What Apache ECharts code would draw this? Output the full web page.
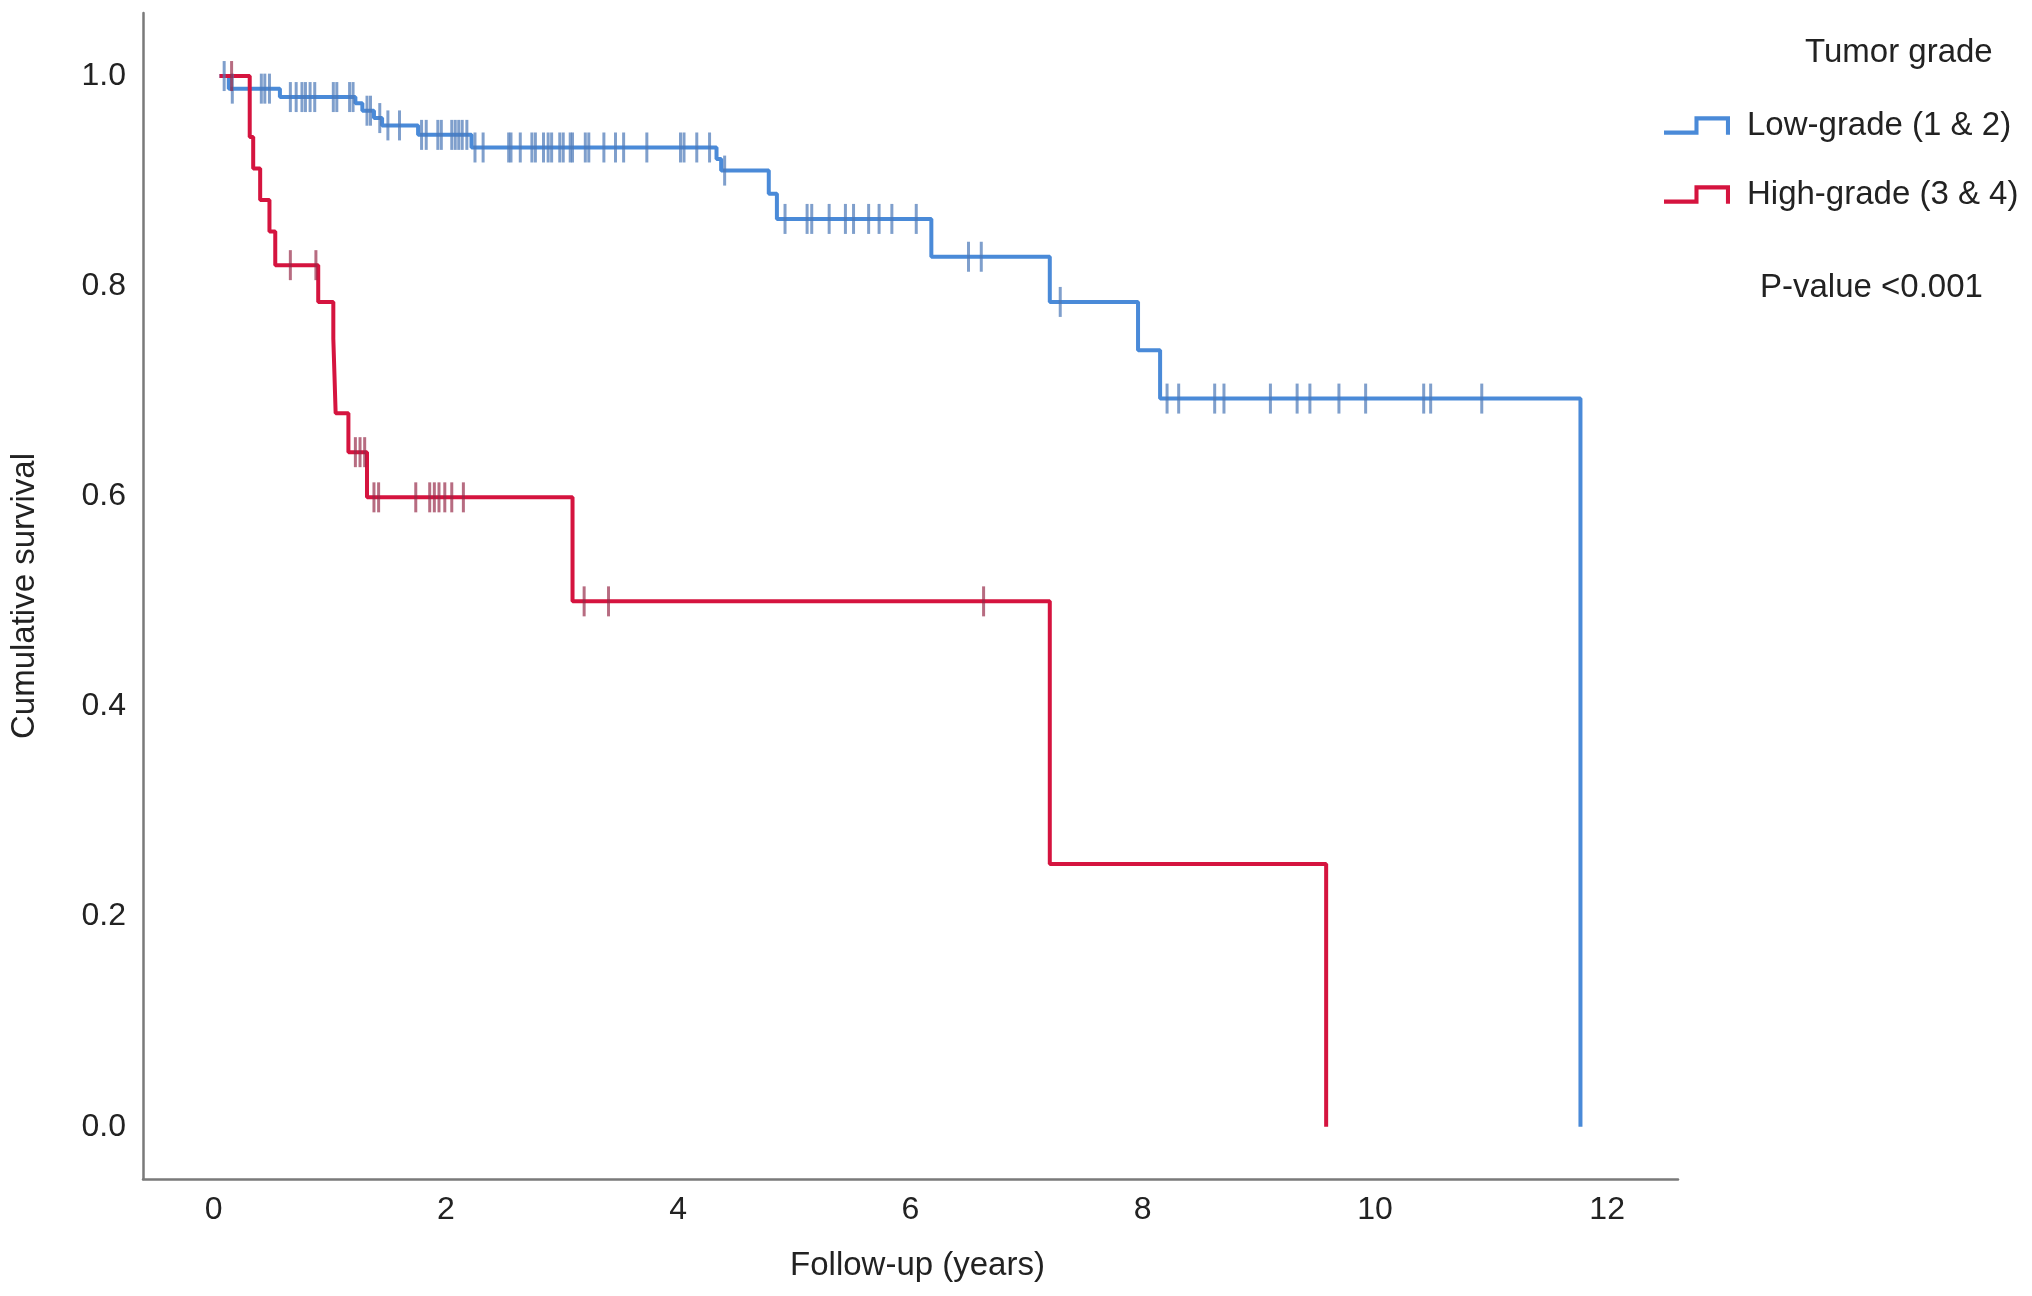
<!DOCTYPE html>
<html>
<head>
<meta charset="utf-8">
<script src="https://cdn.jsdelivr.net/npm/echarts@6/dist/echarts.min.js"></script>
<style>
html,body{margin:0;padding:0;background:#fff;}
#chart{width:2032px;height:1296px;}
</style>
</head>
<body>
<div id="chart"></div>
<script>
// ---- data ----
const lowTimes = [0.05, 0.13, 0.57, 1.22, 1.28, 1.38, 1.45, 1.76, 2.22, 4.33, 4.37, 4.78, 4.85, 6.18, 7.20, 7.96, 8.15, 11.77];
const lowSurv  = [1.0, 0.988, 0.980, 0.974, 0.967, 0.960, 0.953, 0.944, 0.932, 0.921, 0.910, 0.888, 0.864, 0.828, 0.785, 0.739, 0.693, 0.0];
const lowCensor = [0.09, 0.16, 0.41, 0.44, 0.48, 0.66, 0.71, 0.76, 0.79, 0.83, 0.87, 1.03, 1.06, 1.17, 1.20,
  1.32, 1.35, 1.43, 1.50, 1.60, 1.79, 1.83, 1.93, 1.96, 2.05, 2.08, 2.11, 2.14, 2.18,
  2.25, 2.32, 2.54, 2.56, 2.64, 2.74, 2.77, 2.84, 2.88, 2.91, 2.98, 3.01, 3.07, 3.09, 3.20, 3.23, 3.36, 3.46, 3.53, 3.73, 4.02, 4.05, 4.16, 4.27,
  4.40, 4.92, 5.11, 5.15, 5.30, 5.44, 5.51, 5.64, 5.73, 5.84, 6.05, 6.50, 6.61, 7.29,
  8.21, 8.31, 8.62, 8.70, 9.10, 9.33, 9.44, 9.69, 9.92, 10.42, 10.48, 10.92];

const highTimes = [0.05, 0.31, 0.34, 0.40, 0.48, 0.53, 0.90, 1.03, 1.04, 1.05, 1.16, 1.32, 3.09, 7.20, 9.58];
const highSurv  = [1.0, 0.942, 0.912, 0.882, 0.852, 0.820, 0.785, 0.750, 0.715, 0.679, 0.642, 0.599, 0.500, 0.250, 0.0];
const highCensor = [0.154, 0.66, 0.88, 1.22, 1.26, 1.30, 1.38, 1.42, 1.74, 1.86, 1.90, 1.94, 1.99, 2.05, 2.15, 3.19, 3.40, 6.63];

const seriesNames = ['Low-grade (1 & 2)', 'High-grade (3 & 4)'];
const xTicks = [0, 2, 4, 6, 8, 10, 12];
const yTicks = [0, 0.2, 0.4, 0.6, 0.8, 1.0];
const legendTitle = 'Tumor grade';
const pValueText = 'P-value <0.001';
const xName = 'Follow-up (years)';
const yName = 'Cumulative survival';

// ---- helpers ----
function levelAt(times, surv, t) {
  let s = surv[0];
  for (let i = 0; i < times.length; i++) if (times[i] <= t) s = surv[i];
  return s;
}
const zip = (a, b) => a.map((v, i) => [v, b[i]]);

const blue = '#4a8ad8';
const red = '#d5143f';
const FONT = '"Liberation Sans", Arial, Helvetica, sans-serif';
const stepIcon = 'path://M0,14 L30,14 L30,0 L65,0 L65,18 L61,18 L61,4 L34,4 L34,18 L0,18 Z';

const chart = echarts.init(document.getElementById('chart'), null, {renderer: 'canvas'});
chart.setOption({
  backgroundColor: '#ffffff',
  animation: false,
  textStyle: {fontFamily: FONT},
  grid: {left: 143, right: 354, top: 13, bottom: 117, containLabel: false},
  xAxis: {
    type: 'value', min: -0.609, max: 12.61,
    name: xName, nameLocation: 'middle', nameGap: 70,
    nameTextStyle: {fontSize: 33, color: '#222', fontFamily: FONT, padding: [0, 0, 0, 14]},
    axisLine: {show: true, onZero: false, lineStyle: {color: '#7a7a7a', width: 2.5}},
    axisTick: {show: false},
    splitLine: {show: false},
    axisLabel: {customValues: xTicks, fontSize: 32, color: '#222', margin: 15, fontFamily: FONT,
      formatter: v => String(v)}
  },
  yAxis: {
    type: 'value', min: -0.0498, max: 1.06,
    name: yName, nameLocation: 'middle', nameGap: 102,
    nameTextStyle: {fontSize: 33, color: '#222', fontFamily: FONT},
    axisLine: {show: true, onZero: false, lineStyle: {color: '#7a7a7a', width: 2.5}},
    axisTick: {show: false},
    splitLine: {show: false},
    axisLabel: {customValues: yTicks, fontSize: 32, color: '#222', margin: 17, fontFamily: FONT,
      formatter: v => v.toFixed(1)}
  },
  legend: {
    data: seriesNames,
    orient: 'vertical', left: 1659, top: 104,
    itemWidth: 66, itemHeight: 23, itemGap: 36,
    icon: stepIcon,
    textStyle: {fontSize: 33, color: '#222', fontFamily: FONT, padding: [0, 0, 0, 12]}
  },
  graphic: [
    {type: 'text', left: 1898 - 93, top: 52 - 16, style: {text: legendTitle, fontSize: 33, fill: '#222', font: '33px ' + FONT}},
    {type: 'text', left: 1870 - 110, top: 285 - 14, style: {text: pValueText, fontSize: 33, fill: '#222', font: '33px ' + FONT}}
  ],
  series: [
    {
      name: seriesNames[0], type: 'line', step: 'end', showSymbol: false, z: 2,
      data: zip(lowTimes, lowSurv),
      lineStyle: {color: blue, width: 4}, itemStyle: {color: blue}
    },
    {
      name: seriesNames[1], type: 'line', step: 'end', showSymbol: false, z: 3,
      data: zip(highTimes, highSurv),
      lineStyle: {color: red, width: 4}, itemStyle: {color: red}
    },
    {
      name: 'low-censor', type: 'scatter', symbol: 'rect', symbolSize: [3, 30], z: 4,
      data: lowCensor.map(t => [t, levelAt(lowTimes, lowSurv, t)]),
      itemStyle: {color: 'rgba(78,122,185,0.9)'}
    },
    {
      name: 'high-censor', type: 'scatter', symbol: 'rect', symbolSize: [3, 30], z: 5,
      data: highCensor.map(t => [t, levelAt(highTimes, highSurv, t)]),
      itemStyle: {color: 'rgba(150,40,70,0.85)'}
    }
  ]
});
</script>
</body>
</html>
